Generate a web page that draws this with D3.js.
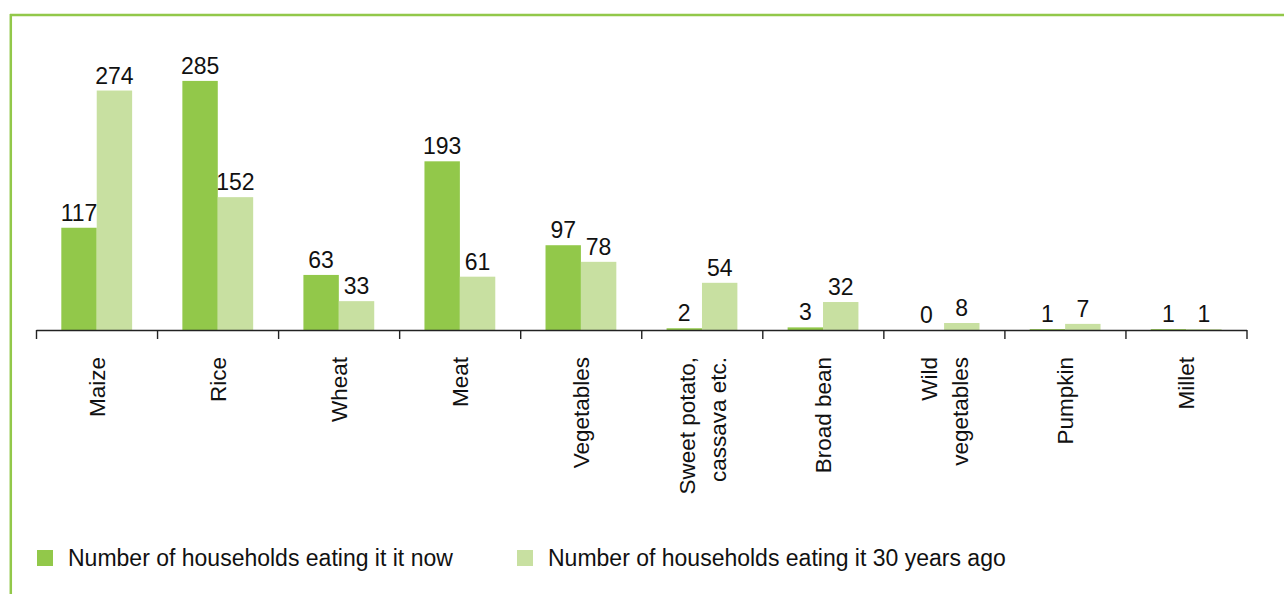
<!DOCTYPE html>
<html>
<head>
<meta charset="utf-8">
<script src="https://cdn.jsdelivr.net/npm/d3@7"></script>
<style>
  html, body { margin: 0; padding: 0; background: #fff; }
  svg { display: block; font-family: "Liberation Sans", Arial, Helvetica, sans-serif; }
</style>
</head>
<body>
<svg id="chart" width="1284" height="594"></svg>
<script>
// Staple foods: households eating each food now vs. 30 years ago
const categories = [
  ["Maize"], ["Rice"], ["Wheat"], ["Meat"], ["Vegetables"],
  ["Sweet potato,", "cassava etc."], ["Broad bean"], ["Wild", "vegetables"],
  ["Pumpkin"], ["Millet"]
];
const seriesNames = [
  "Number of households eating it it now",
  "Number of households eating it 30 years ago"
];
const nowValues = [117, 285, 63, 193, 97, 2, 3, 0, 1, 1];
const pastValues = [274, 152, 33, 61, 78, 54, 32, 8, 7, 1];
const seriesColors = ["#92c84a", "#c8e0a1"];

const svg = d3.select("#chart");
const frameColor = "#92c84a";

// Frame: top rule and left rule
svg.append("line")
  .attr("x1", 10).attr("x2", 1284).attr("y1", 15).attr("y2", 15)
  .attr("stroke", frameColor).attr("stroke-width", 2.5);
svg.append("line")
  .attr("x1", 10.8).attr("x2", 10.8).attr("y1", 14).attr("y2", 594)
  .attr("stroke", frameColor).attr("stroke-width", 2.5);

const baseY = 330;
const x0 = d3.scaleBand()
  .domain(d3.range(categories.length))
  .range([36.5, 1247]);
const bw = x0.bandwidth();
const x1 = d3.scaleBand()
  .domain([0, 1])
  .range([bw * 0.205, bw * 0.79]);
const y = d3.scaleLinear().domain([0, 300]).range([baseY, baseY - 300 * 0.874]);

const rows = categories.map((c, i) => ({ i, vals: [nowValues[i], pastValues[i]] }));

const groups = svg.append("g").selectAll("g")
  .data(rows).join("g")
  .attr("transform", d => `translate(${x0(d.i)},0)`);

groups.selectAll("rect")
  .data(d => d.vals.map((v, s) => ({ v, s })))
  .join("rect")
  .attr("x", d => x1(d.s))
  .attr("width", x1.bandwidth())
  .attr("y", d => y(d.v))
  .attr("height", d => baseY - y(d.v))
  .attr("fill", d => seriesColors[d.s]);

groups.selectAll("text.val")
  .data(d => d.vals.map((v, s) => ({ v, s })))
  .join("text")
  .attr("class", "val")
  .attr("x", d => x1(d.s) + x1.bandwidth() / 2)
  .attr("y", d => y(d.v) - 7)
  .attr("text-anchor", "middle")
  .attr("font-size", 23)
  .attr("fill", "#111")
  .text(d => d.v);

// Category axis with boundary ticks
const axisG = svg.append("g");
axisG.append("line")
  .attr("x1", x0.range()[0]).attr("x2", x0.range()[1])
  .attr("y1", baseY + 0.5).attr("y2", baseY + 0.5)
  .attr("stroke", "#222").attr("stroke-width", 1.4);
const bounds = d3.range(categories.length + 1).map(i => x0.range()[0] + i * x0.step());
axisG.selectAll("line.tick")
  .data(bounds).join("line")
  .attr("class", "tick")
  .attr("x1", d => d).attr("x2", d => d)
  .attr("y1", baseY).attr("y2", baseY + 9)
  .attr("stroke", "#222").attr("stroke-width", 1.4);

// Rotated category labels
const lineGap = 31;
axisG.selectAll("text.cat")
  .data(rows).join("text")
  .attr("class", "cat")
  .attr("transform", d => {
    const cx = x0(d.i) + bw / 2;
    return `translate(${cx},357) rotate(-90)`;
  })
  .attr("text-anchor", "end")
  .attr("font-size", 22.5)
  .attr("fill", "#111")
  .each(function(d) {
    const lines = categories[d.i];
    const n = lines.length;
    d3.select(this).selectAll("tspan")
      .data(lines).join("tspan")
      .attr("x", 0)
      .attr("y", (l, k) => (k - (n - 1) / 2) * lineGap)
      .attr("dy", "0.35em")
      .text(l => l);
  });

// Legend
const legendX = [37, 517];
const legend = svg.append("g").selectAll("g")
  .data(seriesNames).join("g")
  .attr("transform", (d, i) => `translate(${legendX[i]},550)`);
legend.append("rect")
  .attr("width", 16).attr("height", 16)
  .attr("fill", (d, i) => seriesColors[i]);
legend.append("text")
  .attr("x", 31).attr("y", 8)
  .attr("dy", "0.35em")
  .attr("font-size", 23)
  .attr("fill", "#111")
  .text(d => d);
</script>
</body>
</html>
